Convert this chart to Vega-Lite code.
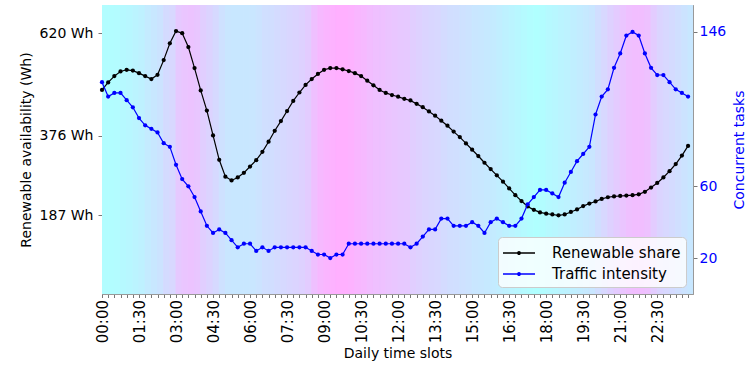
{
  "$schema": "https://vega.github.io/schema/vega-lite/v6.json",
  "width": 591,
  "height": 289,
  "autosize": {"type": "none"},
  "padding": {"left": 102, "top": 5, "right": 60, "bottom": 72},
  "background": "white",
  "config": {
    "font": "DejaVu Sans",
    "view": {"stroke": "#999999", "strokeWidth": 1},
    "axis": {"grid": false, "domainColor": "#999999", "tickColor": "#777777", "tickSize": 4, "titleFontWeight": "normal", "labelColor": "#000000", "titleColor": "#000000", "zindex": 1}
  },
  "data": {"values": [
    {"h":0,"h2":0.25,"r":485,"t":118,"bg":0.02},
    {"h":0.25,"h2":0.5,"r":503,"t":110,"bg":0.02},
    {"h":0.5,"h2":0.75,"r":518,"t":112,"bg":0.04},
    {"h":0.75,"h2":1,"r":529,"t":112,"bg":0.08},
    {"h":1,"h2":1.25,"r":533,"t":108,"bg":0.1},
    {"h":1.25,"h2":1.5,"r":531,"t":104,"bg":0.14},
    {"h":1.5,"h2":1.75,"r":525,"t":98,"bg":0.18},
    {"h":1.75,"h2":2,"r":518,"t":94,"bg":0.25},
    {"h":2,"h2":2.25,"r":511,"t":92,"bg":0.3},
    {"h":2.25,"h2":2.5,"r":521,"t":90,"bg":0.36},
    {"h":2.5,"h2":2.75,"r":556,"t":84,"bg":0.45},
    {"h":2.75,"h2":3,"r":596,"t":82,"bg":0.5},
    {"h":3,"h2":3.25,"r":625,"t":72,"bg":0.68},
    {"h":3.25,"h2":3.5,"r":620,"t":64,"bg":0.74},
    {"h":3.5,"h2":3.75,"r":587,"t":60,"bg":0.76},
    {"h":3.75,"h2":4,"r":537,"t":54,"bg":0.72},
    {"h":4,"h2":4.25,"r":484,"t":46,"bg":0.62},
    {"h":4.25,"h2":4.5,"r":436,"t":38,"bg":0.56},
    {"h":4.5,"h2":4.75,"r":377,"t":34,"bg":0.48},
    {"h":4.75,"h2":5,"r":319,"t":36,"bg":0.38},
    {"h":5,"h2":5.25,"r":279,"t":34,"bg":0.32},
    {"h":5.25,"h2":5.5,"r":270,"t":30,"bg":0.3},
    {"h":5.5,"h2":5.75,"r":277,"t":26,"bg":0.3},
    {"h":5.75,"h2":6,"r":288,"t":28,"bg":0.3},
    {"h":6,"h2":6.25,"r":303,"t":28,"bg":0.32},
    {"h":6.25,"h2":6.5,"r":318,"t":24,"bg":0.36},
    {"h":6.5,"h2":6.75,"r":338,"t":26,"bg":0.4},
    {"h":6.75,"h2":7,"r":362,"t":24,"bg":0.42},
    {"h":7,"h2":7.25,"r":388,"t":26,"bg":0.45},
    {"h":7.25,"h2":7.5,"r":411,"t":26,"bg":0.48},
    {"h":7.5,"h2":7.75,"r":435,"t":26,"bg":0.52},
    {"h":7.75,"h2":8,"r":459,"t":26,"bg":0.55},
    {"h":8,"h2":8.25,"r":479,"t":26,"bg":0.58},
    {"h":8.25,"h2":8.5,"r":497,"t":26,"bg":0.65},
    {"h":8.5,"h2":8.75,"r":511,"t":24,"bg":0.8},
    {"h":8.75,"h2":9,"r":523,"t":22,"bg":0.88},
    {"h":9,"h2":9.25,"r":533,"t":22,"bg":0.94},
    {"h":9.25,"h2":9.5,"r":537,"t":20,"bg":0.98},
    {"h":9.5,"h2":9.75,"r":537,"t":22,"bg":1},
    {"h":9.75,"h2":10,"r":534,"t":22,"bg":1},
    {"h":10,"h2":10.25,"r":530,"t":28,"bg":0.98},
    {"h":10.25,"h2":10.5,"r":525,"t":28,"bg":0.92},
    {"h":10.5,"h2":10.75,"r":518,"t":28,"bg":0.88},
    {"h":10.75,"h2":11,"r":507,"t":28,"bg":0.84},
    {"h":11,"h2":11.25,"r":496,"t":28,"bg":0.8},
    {"h":11.25,"h2":11.5,"r":485,"t":28,"bg":0.78},
    {"h":11.5,"h2":11.75,"r":478,"t":28,"bg":0.75},
    {"h":11.75,"h2":12,"r":473,"t":28,"bg":0.72},
    {"h":12,"h2":12.25,"r":469,"t":28,"bg":0.7},
    {"h":12.25,"h2":12.5,"r":464,"t":28,"bg":0.68},
    {"h":12.5,"h2":12.75,"r":460,"t":26,"bg":0.62},
    {"h":12.75,"h2":13,"r":452,"t":28,"bg":0.58},
    {"h":13,"h2":13.25,"r":444,"t":32,"bg":0.55},
    {"h":13.25,"h2":13.5,"r":434,"t":36,"bg":0.52},
    {"h":13.5,"h2":13.75,"r":424,"t":36,"bg":0.5},
    {"h":13.75,"h2":14,"r":412,"t":42,"bg":0.46},
    {"h":14,"h2":14.25,"r":400,"t":42,"bg":0.42},
    {"h":14.25,"h2":14.5,"r":386,"t":38,"bg":0.4},
    {"h":14.5,"h2":14.75,"r":373,"t":38,"bg":0.38},
    {"h":14.75,"h2":15,"r":358,"t":38,"bg":0.35},
    {"h":15,"h2":15.25,"r":343,"t":40,"bg":0.32},
    {"h":15.25,"h2":15.5,"r":328,"t":38,"bg":0.3},
    {"h":15.5,"h2":15.75,"r":312,"t":34,"bg":0.28},
    {"h":15.75,"h2":16,"r":297,"t":40,"bg":0.25},
    {"h":16,"h2":16.25,"r":282,"t":42,"bg":0.22},
    {"h":16.25,"h2":16.5,"r":267,"t":40,"bg":0.18},
    {"h":16.5,"h2":16.75,"r":251,"t":38,"bg":0.14},
    {"h":16.75,"h2":17,"r":235,"t":38,"bg":0.1},
    {"h":17,"h2":17.25,"r":221,"t":42,"bg":0.06},
    {"h":17.25,"h2":17.5,"r":208,"t":50,"bg":0.02},
    {"h":17.5,"h2":17.75,"r":200,"t":54,"bg":0},
    {"h":17.75,"h2":18,"r":194,"t":58,"bg":0.02},
    {"h":18,"h2":18.25,"r":191,"t":58,"bg":0.08},
    {"h":18.25,"h2":18.5,"r":189,"t":56,"bg":0.1},
    {"h":18.5,"h2":18.75,"r":187,"t":54,"bg":0.14},
    {"h":18.75,"h2":19,"r":189,"t":62,"bg":0.17},
    {"h":19,"h2":19.25,"r":195,"t":68,"bg":0.2},
    {"h":19.25,"h2":19.5,"r":201,"t":74,"bg":0.24},
    {"h":19.5,"h2":19.75,"r":209,"t":78,"bg":0.28},
    {"h":19.75,"h2":20,"r":215,"t":82,"bg":0.32},
    {"h":20,"h2":20.25,"r":220,"t":100,"bg":0.42},
    {"h":20.25,"h2":20.5,"r":226,"t":110,"bg":0.5},
    {"h":20.5,"h2":20.75,"r":230,"t":114,"bg":0.58},
    {"h":20.75,"h2":21,"r":232,"t":126,"bg":0.66},
    {"h":21,"h2":21.25,"r":233,"t":134,"bg":0.74},
    {"h":21.25,"h2":21.5,"r":234,"t":144,"bg":0.8},
    {"h":21.5,"h2":21.75,"r":235,"t":146,"bg":0.82},
    {"h":21.75,"h2":22,"r":237,"t":144,"bg":0.82},
    {"h":22,"h2":22.25,"r":243,"t":134,"bg":0.78},
    {"h":22.25,"h2":22.5,"r":253,"t":126,"bg":0.65},
    {"h":22.5,"h2":22.75,"r":264,"t":122,"bg":0.55},
    {"h":22.75,"h2":23,"r":277,"t":122,"bg":0.5},
    {"h":23,"h2":23.25,"r":292,"t":118,"bg":0.45},
    {"h":23.25,"h2":23.5,"r":309,"t":114,"bg":0.4},
    {"h":23.5,"h2":23.75,"r":329,"t":112,"bg":0.35},
    {"h":23.75,"h2":24,"r":352,"t":110,"bg":0.3}
  ]},
  "encoding": {
    "x": {
      "field": "h",
      "type": "quantitative",
      "title": "Daily time slots",
      "scale": {"domain": [0, 23.95], "nice": false, "zero": false},
      "axis": {
        "values": [0,0.25,0.5,0.75,1,1.25,1.5,1.75,2,2.25,2.5,2.75,3,3.25,3.5,3.75,4,4.25,4.5,4.75,5,5.25,5.5,5.75,6,6.25,6.5,6.75,7,7.25,7.5,7.75,8,8.25,8.5,8.75,9,9.25,9.5,9.75,10,10.25,10.5,10.75,11,11.25,11.5,11.75,12,12.25,12.5,12.75,13,13.25,13.5,13.75,14,14.25,14.5,14.75,15,15.25,15.5,15.75,16,16.25,16.5,16.75,17,17.25,17.5,17.75,18,18.25,18.5,18.75,19,19.25,19.5,19.75,20,20.25,20.5,20.75,21,21.25,21.5,21.75,22,22.25,22.5,22.75,23,23.25,23.5,23.75],
        "labelExpr": "datum.value % 1.5 == 0 ? ((datum.value < 10 ? '0' : '') + floor(datum.value) + (datum.value % 1 == 0 ? ':00' : ':30')) : ''",
        "labelAngle": -90,
        "labelFontSize": 15,
        "labelPadding": 2,
        "labelOverlap": false,
        "labelFlush": false,
        "tickSize": 3.5,
        "titleFontSize": 14,
        "titlePadding": 4
      }
    }
  },
  "layer": [
    {
      "mark": {"type": "rect", "clip": true, "strokeWidth": 1},
      "encoding": {
        "x2": {"field": "h2"},
        "fill": {
          "field": "bg",
          "type": "quantitative",
          "scale": {"domain": [0, 1], "range": ["#b0ffff", "#ffb0ff"], "interpolate": "rgb"},
          "legend": null
        },
        "stroke": {
          "field": "bg",
          "type": "quantitative",
          "scale": {"domain": [0, 1], "range": ["#b0ffff", "#ffb0ff"], "interpolate": "rgb"},
          "legend": null
        }
      }
    },
    {
      "mark": {"type": "line", "strokeWidth": 1.2, "point": {"filled": true, "size": 18}},
      "encoding": {
        "y": {
          "field": "r",
          "type": "quantitative",
          "scale": {"domain": [0, 687], "nice": false},
          "axis": {
            "values": [187, 376, 620],
            "labelExpr": "datum.value + ' Wh'",
            "title": "Renewable availability (Wh)",
            "labelFontSize": 14,
            "titleFontSize": 14,
            "labelPadding": 5,
            "titlePadding": 6
          }
        },
        "color": {
          "datum": "Renewable share",
          "type": "nominal",
          "scale": {"domain": ["Renewable share", "Traffic intensity"], "range": ["#000000", "#0000ff"]},
          "legend": {
            "orient": "bottom-right",
            "offset": 7,
            "title": null,
            "symbolType": "M-1.6,0L1.6,0M-0.12,0A0.12,0.12,0,1,0,0.12,0A0.12,0.12,0,1,0,-0.12,0Z",
            "symbolSize": 400,
            "symbolStrokeWidth": 1.5,
            "symbolOffset": 5,
            "labelOffset": 22,
            "labelFontSize": 15,
            "labelColor": "#000000",
            "labelLimit": 300,
            "padding": 5,
            "rowPadding": 2,
            "fillColor": "rgba(255,255,255,0.8)",
            "strokeColor": "#cccccc",
            "cornerRadius": 4
          }
        }
      }
    },
    {
      "mark": {"type": "line", "strokeWidth": 1.2, "point": {"filled": true, "size": 18}},
      "encoding": {
        "y": {
          "field": "t",
          "type": "quantitative",
          "scale": {"domain": [0, 161], "nice": false},
          "axis": {
            "orient": "right",
            "values": [20, 60, 146],
            "title": "Concurrent tasks",
            "titleAngle": 270,
            "labelColor": "#0000ff",
            "titleColor": "#0000ff",
            "labelFontSize": 14,
            "titleFontSize": 14,
            "labelPadding": 2,
            "titlePadding": 21
          }
        },
        "color": {"datum": "Traffic intensity", "type": "nominal"}
      }
    }
  ],
  "resolve": {"scale": {"y": "independent"}}
}
